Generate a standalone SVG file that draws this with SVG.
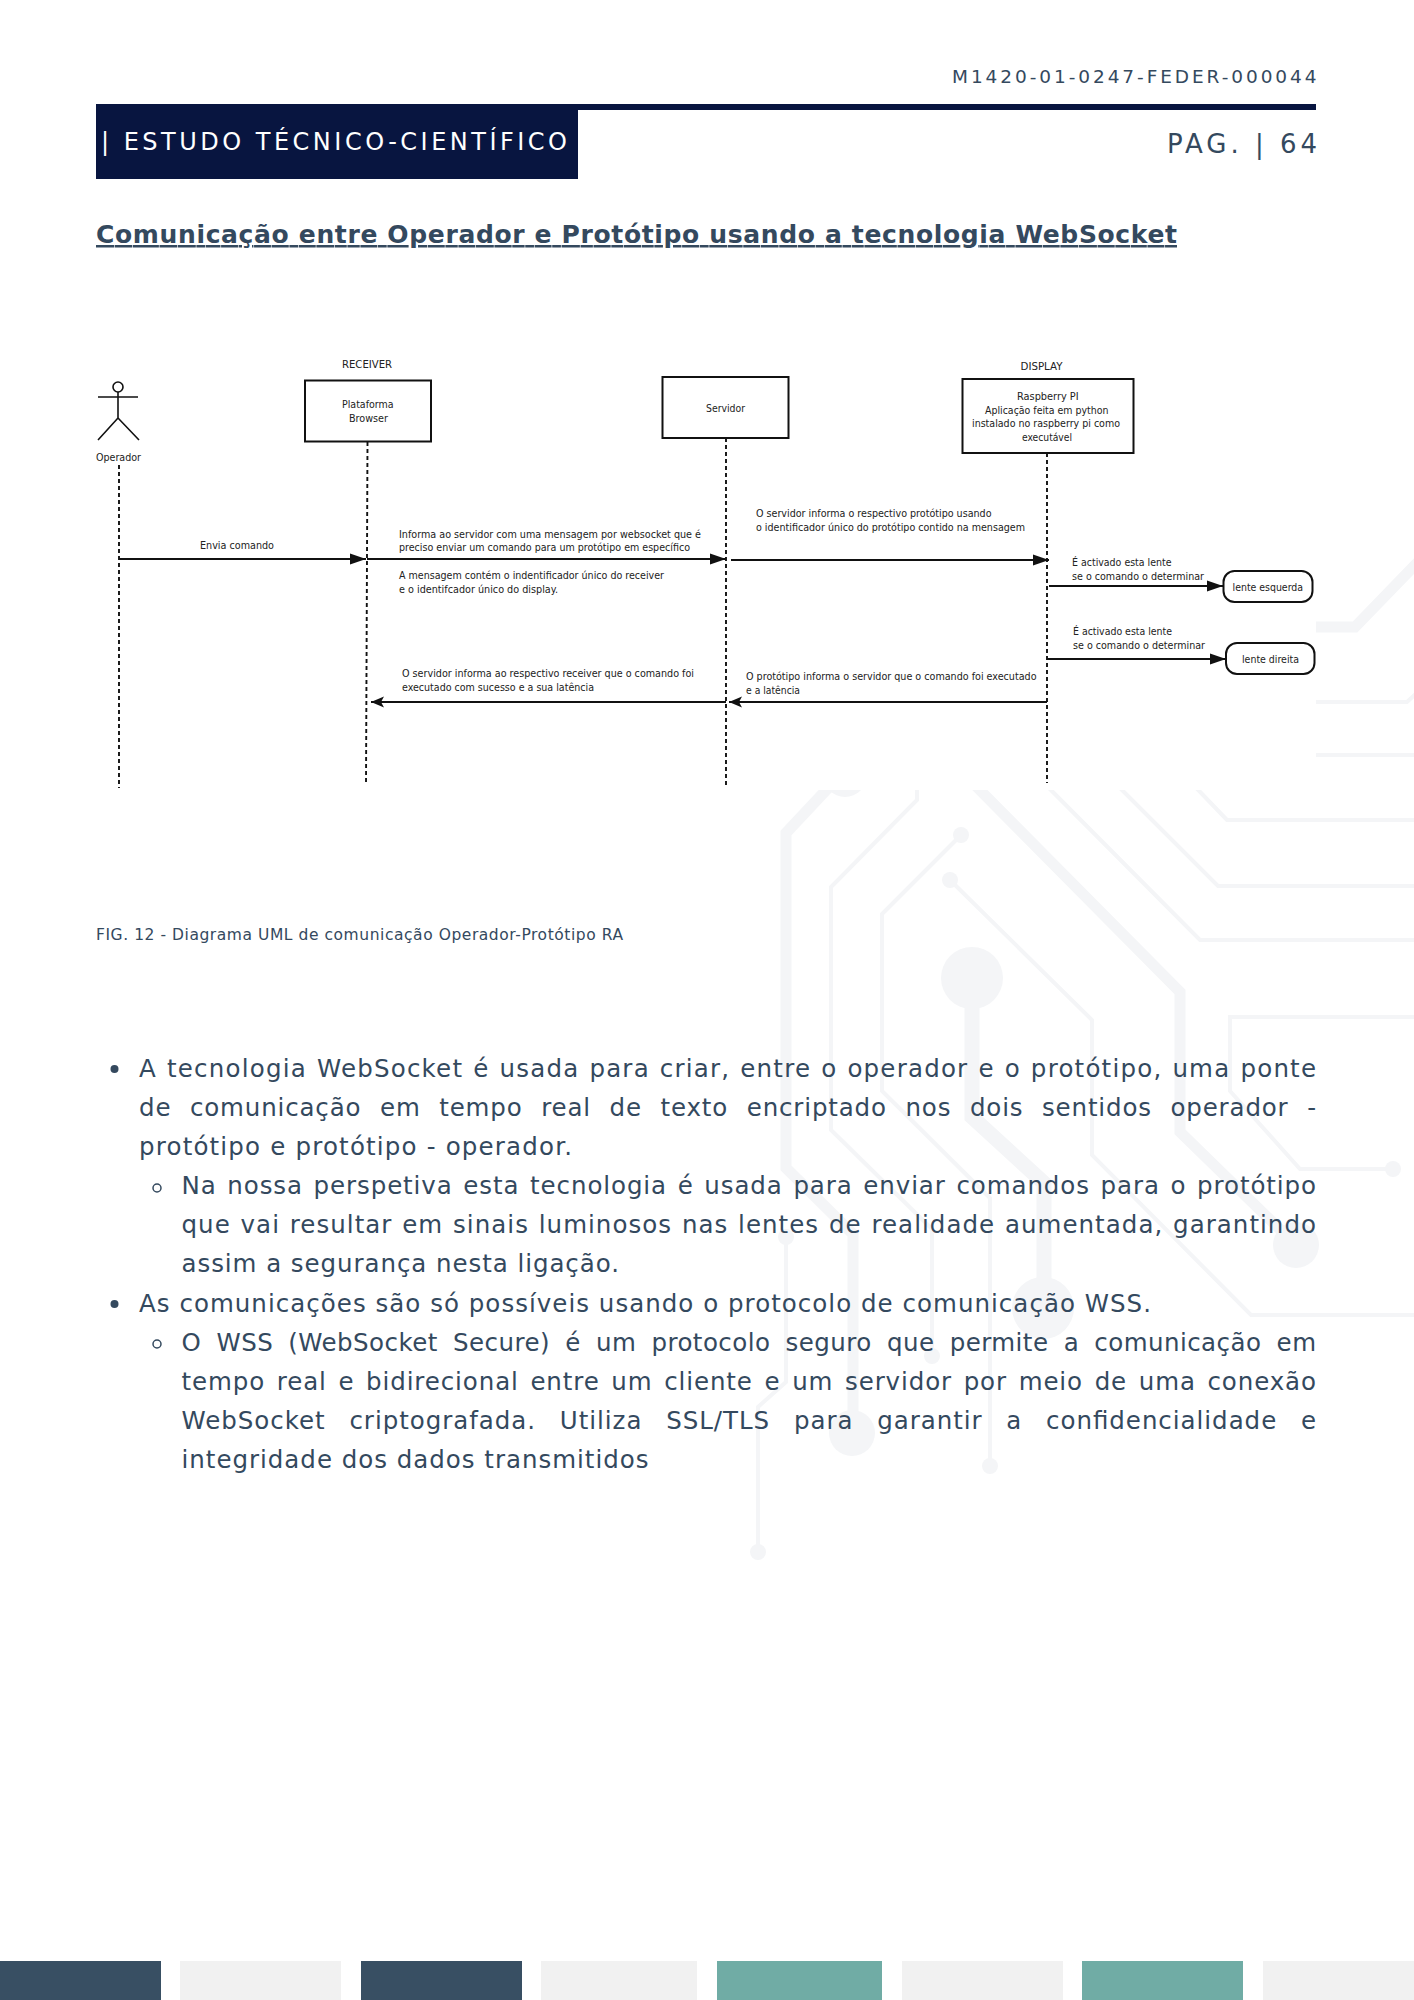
<svg xmlns="http://www.w3.org/2000/svg" width="1414" height="2000" viewBox="0 0 1414 2000">
<style>
text{font-family:"DejaVu Sans","Liberation Sans",sans-serif;fill:#34495e}
.j{font-size:24.5px}
.d{font-family:"DejaVu Sans Condensed","DejaVu Sans",sans-serif;font-size:11px;fill:#222}
.box{fill:#fff;stroke:#111;stroke-width:2}
.life{fill:none;stroke:#111;stroke-width:1.9;stroke-dasharray:4 3}
.msg{fill:none;stroke:#111;stroke-width:1.8}
.stick{fill:none;stroke:#111;stroke-width:1.6}
.wt{fill:none;stroke:#f4f5f7}
.wd{fill:#f4f5f7}
</style>
<defs>
<marker id="ah" markerUnits="userSpaceOnUse" markerWidth="17" markerHeight="13" refX="16" refY="6.500" orient="auto"><path d="M0 1L16 6.500L0 12Z" fill="#111"/></marker>
<marker id="ar" markerUnits="userSpaceOnUse" markerWidth="14" markerHeight="13" refX="13" refY="6.500" orient="auto"><path d="M0 1L13 6.500L0 12L3 6.500Z" fill="#111"/></marker>
</defs>
<rect width="1414" height="2000" fill="#fff"/>
<g id="watermark">
<path class="wt" stroke-width="11" d="M845 770L786 833V1168L853 1234V1433"/>
<circle class="wd" cx="845" cy="775" r="22"/>
<path class="wt" stroke-width="4" d="M917 770V800L831 887V1130L932 1229V1356"/>
<circle class="wd" cx="932" cy="1356" r="8"/>
<path class="wt" stroke-width="4" d="M961 835L882 914V1091L990 1198V1466"/>
<circle class="wd" cx="961" cy="835" r="8"/><circle class="wd" cx="990" cy="1466" r="8"/>
<path class="wt" stroke-width="4" d="M950 880L1092 1020V1155L1251 1315H1414"/>
<circle class="wd" cx="950" cy="880" r="8"/>
<path class="wt" stroke-width="15" d="M972 978V1117L1044 1183V1308"/>
<circle class="wd" cx="972" cy="978" r="31"/><circle class="wd" cx="1043" cy="1308" r="31"/>
<path class="wt" stroke-width="11" d="M961 771L1180 992V1132L1295 1244"/>
<circle class="wd" cx="1296" cy="1245" r="23"/><circle class="wd" cx="852" cy="1433" r="23"/>
<path class="wt" stroke-width="4" d="M1032 771L1200 940H1414"/>
<path class="wt" stroke-width="4" d="M1103 771L1218 886H1414"/>
<path class="wt" stroke-width="4" d="M1180 771L1227 820H1414"/>
<path class="wt" stroke-width="4" d="M1414 1017H1230V1091L1300 1169H1393"/>
<circle class="wd" cx="1393" cy="1169" r="8"/>
<path class="wt" stroke-width="4" d="M786 1237V1382L758 1407V1550"/>
<circle class="wd" cx="758" cy="1552" r="8"/><circle class="wd" cx="786" cy="1237" r="8"/>
<path class="wt" stroke-width="11" d="M1300 627H1355L1420 560"/>
<path class="wt" stroke-width="4" d="M1300 702H1407L1420 690"/>
<path class="wt" stroke-width="4" d="M1300 755H1414"/>
</g>
<rect x="90" y="270" width="1226" height="520" fill="#fff"/>
<g id="header">
<text x="952" y="82.500" font-size="18.500" textLength="364.500" lengthAdjust="spacing">M1420-01-0247-FEDER-000044</text>
<rect x="96" y="104" width="482" height="75" fill="#081540"/>
<rect x="96" y="104" width="1220" height="6" fill="#081540"/>
<text x="101" y="150" font-size="24" style="fill:#fff" textLength="466" lengthAdjust="spacing">| ESTUDO TÉCNICO-CIENTÍFICO</text>
<text x="1167" y="153" font-size="26" textLength="150" lengthAdjust="spacing">PAG. | 64</text>
<text x="96" y="243" font-size="25" font-weight="700" text-decoration="underline" textLength="1081" lengthAdjust="spacing">Comunicação entre Operador e Protótipo usando a tecnologia WebSocket</text>
</g>
<g id="connectors">
<path class="life" d="M119 465V788"/>
<path class="life" d="M367.500 442L366 785"/>
<path class="life" d="M726 438V788"/>
<path class="life" d="M1047 453V783"/>
<path class="msg" marker-end="url(#ah)" d="M119 559H366"/>
<path class="msg" marker-end="url(#ah)" d="M367 559H726"/>
<path class="msg" marker-end="url(#ah)" d="M731 560H1049"/>
<path class="msg" marker-end="url(#ah)" d="M1049 586H1223"/>
<path class="msg" marker-end="url(#ah)" d="M1047 659H1226"/>
<path class="msg" marker-end="url(#ar)" d="M1047 702H729"/>
<path class="msg" marker-end="url(#ar)" d="M726 702H371"/>
</g>
<g id="msg-labels">
<text class="d" x="200" y="549" textLength="74" lengthAdjust="spacingAndGlyphs">Envia comando</text>
<text class="d" x="399" y="538" textLength="302" lengthAdjust="spacingAndGlyphs">Informa ao servidor com uma mensagem por websocket que é</text>
<text class="d" x="399" y="551" textLength="291" lengthAdjust="spacingAndGlyphs">preciso enviar um comando para um protótipo em específico</text>
<text class="d" x="399" y="579" textLength="265" lengthAdjust="spacingAndGlyphs">A mensagem contém o indentificador único do receiver</text>
<text class="d" x="399" y="593" textLength="159" lengthAdjust="spacingAndGlyphs">e o identifcador único do display.</text>
<text class="d" x="402" y="677" textLength="292" lengthAdjust="spacingAndGlyphs">O servidor informa ao respectivo receiver que o comando foi</text>
<text class="d" x="402" y="691" textLength="192" lengthAdjust="spacingAndGlyphs">executado com sucesso e a sua latência</text>
<text class="d" x="756" y="517" textLength="235.500" lengthAdjust="spacingAndGlyphs">O servidor informa o respectivo protótipo usando</text>
<text class="d" x="756" y="531" textLength="269" lengthAdjust="spacingAndGlyphs">o identificador único do protótipo contido na mensagem</text>
<text class="d" x="1072" y="566" textLength="99.500" lengthAdjust="spacingAndGlyphs">É activado esta lente</text>
<text class="d" x="1072" y="580" textLength="132" lengthAdjust="spacingAndGlyphs">se o comando o determinar</text>
<text class="d" x="1073" y="635" textLength="99" lengthAdjust="spacingAndGlyphs">É activado esta lente</text>
<text class="d" x="1073" y="649" textLength="132" lengthAdjust="spacingAndGlyphs">se o comando o determinar</text>
<text class="d" x="746" y="680" textLength="290.500" lengthAdjust="spacingAndGlyphs">O protótipo informa o servidor que o comando foi executado</text>
<text class="d" x="746" y="694" textLength="54" lengthAdjust="spacingAndGlyphs">e a latência</text>
</g>
<g id="operador">
<circle class="stick" cx="118" cy="387" r="5"/>
<path class="stick" d="M98 397H138M118 392V418M118 418L98 440M118 418L139 440"/>
<text class="d" x="96" y="461" textLength="45" lengthAdjust="spacingAndGlyphs">Operador</text>
</g>
<g id="plataforma">
<text class="d" x="342" y="368" textLength="50" lengthAdjust="spacingAndGlyphs">RECEIVER</text>
<rect class="box" x="305" y="380.500" width="126" height="61"/>
<text class="d" x="342" y="408" textLength="51.500" lengthAdjust="spacingAndGlyphs">Plataforma</text>
<text class="d" x="349" y="422" textLength="39" lengthAdjust="spacingAndGlyphs">Browser</text>
</g>
<g id="servidor">
<rect class="box" x="662.500" y="377" width="126" height="61"/>
<text class="d" x="706" y="412" textLength="39" lengthAdjust="spacingAndGlyphs">Servidor</text>
</g>
<g id="display">
<text class="d" x="1020.500" y="370" textLength="42" lengthAdjust="spacingAndGlyphs">DISPLAY</text>
<rect class="box" x="962.500" y="379" width="171" height="74"/>
<text class="d" x="1017" y="400" textLength="61.600" lengthAdjust="spacingAndGlyphs">Raspberry PI</text>
<text class="d" x="985" y="414" textLength="123.500" lengthAdjust="spacingAndGlyphs">Aplicação feita em python</text>
<text class="d" x="972" y="427" textLength="148" lengthAdjust="spacingAndGlyphs">instalado no raspberry pi como</text>
<text class="d" x="1022" y="441" textLength="50" lengthAdjust="spacingAndGlyphs">executável</text>
</g>
<g id="lente-esquerda">
<rect class="box" x="1223.500" y="571" width="89" height="31" rx="11"/>
<text class="d" x="1232.600" y="591" textLength="70.400" lengthAdjust="spacingAndGlyphs">lente esquerda</text>
</g>
<g id="lente-direita">
<rect class="box" x="1226" y="643" width="88.500" height="31" rx="11"/>
<text class="d" x="1242" y="663" textLength="57" lengthAdjust="spacingAndGlyphs">lente direita</text>
</g>
<text id="caption" x="96" y="940" font-size="15.500" textLength="527" lengthAdjust="spacing">FIG. 12 - Diagrama UML de comunicação Operador-Protótipo RA</text>
<g id="body">
<circle cx="114.500" cy="1069" r="4" fill="#34495e"/>
<text class="j" x="139" y="1077" word-spacing="1" textLength="1177" lengthAdjust="spacing">A tecnologia WebSocket é usada para criar, entre o operador e o protótipo, uma ponte</text>
<text class="j" x="139" y="1116" word-spacing="10" textLength="1177" lengthAdjust="spacing">de comunicação em tempo real de texto encriptado nos dois sentidos operador -</text>
<text class="j" x="139" y="1155" textLength="433" lengthAdjust="spacing">protótipo e protótipo - operador.</text>
<circle cx="157" cy="1188" r="4" fill="none" stroke="#34495e" stroke-width="1.500"/>
<text class="j" x="181.500" y="1194" word-spacing="2" textLength="1134.500" lengthAdjust="spacing">Na nossa perspetiva esta tecnologia é usada para enviar comandos para o protótipo</text>
<text class="j" x="181.500" y="1233" word-spacing="1" textLength="1134.500" lengthAdjust="spacing">que vai resultar em sinais luminosos nas lentes de realidade aumentada, garantindo</text>
<text class="j" x="181.500" y="1272" textLength="437.500" lengthAdjust="spacing">assim a segurança nesta ligação.</text>
<circle cx="114.500" cy="1304" r="4" fill="#34495e"/>
<text class="j" x="139" y="1312" textLength="1012" lengthAdjust="spacing">As comunicações são só possíveis usando o protocolo de comunicação WSS.</text>
<circle cx="157" cy="1344" r="4" fill="none" stroke="#34495e" stroke-width="1.500"/>
<text class="j" x="181.500" y="1351" word-spacing="7" textLength="1134.500" lengthAdjust="spacing">O WSS (WebSocket Secure) é um protocolo seguro que permite a comunicação em</text>
<text class="j" x="181.500" y="1390" word-spacing="3" textLength="1134.500" lengthAdjust="spacing">tempo real e bidirecional entre um cliente e um servidor por meio de uma conexão</text>
<text class="j" x="181.500" y="1429" word-spacing="15" textLength="1134.500" lengthAdjust="spacing">WebSocket criptografada. Utiliza SSL/TLS para garantir a confidencialidade e</text>
<text class="j" x="181.500" y="1468" textLength="467" lengthAdjust="spacing">integridade dos dados transmitidos</text>
</g>
<g id="footer">
<rect x="0" y="1961" width="161" height="39" fill="#384f63"/>
<rect x="180" y="1961" width="161" height="39" fill="#f1f1f1"/>
<rect x="361" y="1961" width="161" height="39" fill="#384f63"/>
<rect x="541" y="1961" width="156" height="39" fill="#f1f1f1"/>
<rect x="717" y="1961" width="165" height="39" fill="#70aca5"/>
<rect x="902" y="1961" width="161" height="39" fill="#f1f1f1"/>
<rect x="1082" y="1961" width="161" height="39" fill="#70aca5"/>
<rect x="1263" y="1961" width="151" height="39" fill="#f1f1f1"/>
</g>
</svg>
